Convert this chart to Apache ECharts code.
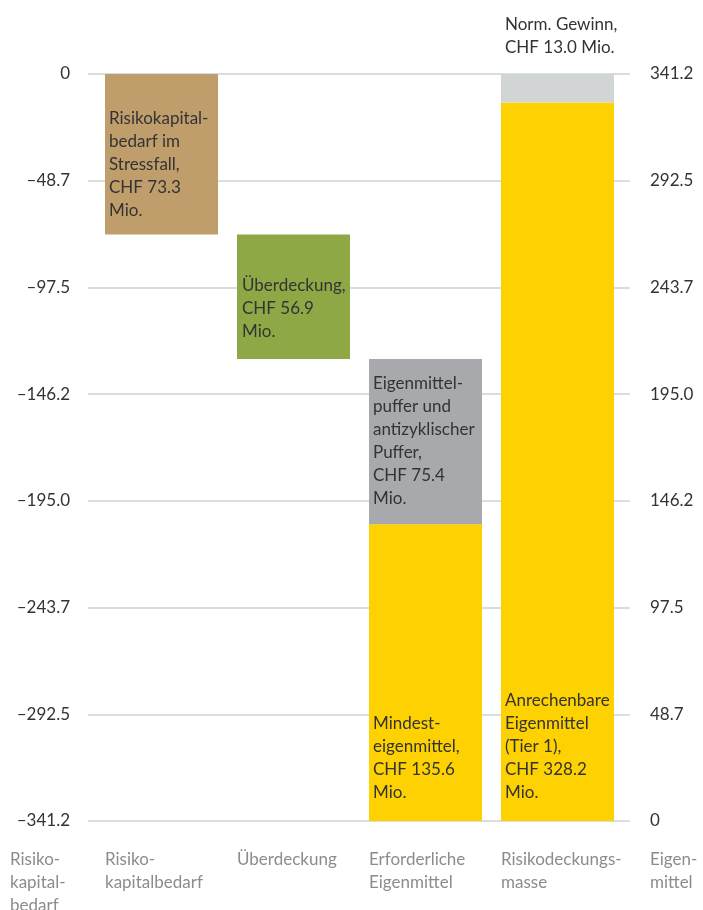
<!DOCTYPE html>
<html>
<head>
<meta charset="utf-8">
<script src="https://cdn.jsdelivr.net/npm/echarts@6/dist/echarts.min.js"></script>
<style>
  html, body { margin: 0; padding: 0; background: #fff; }
  #chart { width: 703px; height: 910px; }
</style>
</head>
<body>
<div id="chart"></div>
<script>
// Daten (CHF Mio.)
var axisMax = 341.2;
var categories = ['Risiko-\nkapitalbedarf', 'Überdeckung', 'Erforderliche\nEigenmittel', 'Risikodeckungs-\nmasse'];
var lowerValues = [73.3, 56.9, 135.6, 328.2];
var upperValues = ['-', '-', 75.4, 13.0];
var lowerColors = ['#bf9e6c', '#8fa846', '#fed100', '#fed100'];
var upperColors = ['#a8a9ac', '#d2d5d5'];
var lowerLabels = [
    'Risikokapital-\nbedarf im\nStressfall,\nCHF 73.3\nMio.',
    'Überdeckung,\nCHF 56.9\nMio.',
    'Mindest-\neigenmittel,\nCHF 135.6\nMio.',
    'Anrechenbare\nEigenmittel\n(Tier 1),\nCHF 328.2\nMio.'
];
var upperLabels = ['', '', 'Eigenmittel-\npuffer und\nantizyklischer\nPuffer,\nCHF 75.4\nMio.', 'Norm. Gewinn,\nCHF 13.0 Mio.'];

// Sockel für den Wasserfall: Balken 1 und 2 hängen von oben
var baseValues = [
    axisMax - lowerValues[0],
    axisMax - lowerValues[0] - lowerValues[1],
    0,
    0
];

var FONT = 'Lato, sans-serif';
var txt = '#333333';
var grau = '#8b8c8e';
var step = axisMax / 7;

var chart = echarts.init(document.getElementById('chart'), null, {renderer: 'canvas'});

function fmt(v) {
    if (Math.abs(v) < 1e-6) return '0';
    return (v < 0 ? '\u2013' : '') + Math.abs(v).toFixed(1);
}

var lowerData = lowerValues.map(function (v, i) {
    var lbl;
    if (i === 0) lbl = {position: [4, 33], verticalAlign: 'top'};
    else if (i === 1) lbl = {position: [5, 40], verticalAlign: 'top'};
    else lbl = {position: 'insideBottomLeft', distance: 4, offset: [0, -13], verticalAlign: 'bottom'};
    return {
        value: v,
        itemStyle: {color: lowerColors[i]},
        label: lbl
    };
});

var upperData = upperValues.map(function (v, i) {
    if (v === '-') return '-';
    var lbl = i === 2 ? {position: [4, 13], verticalAlign: 'top'} : {position: [4, -15], verticalAlign: 'bottom'};
    return {
        value: v,
        itemStyle: {color: upperColors[i - 2]},
        label: lbl
    };
});

var labelStyle = {
    show: true,
    color: txt,
    fontFamily: FONT,
    fontSize: 17,
    lineHeight: 23,
    align: 'left'
};

var option = {
    animation: false,
    backgroundColor: '#ffffff',
    textStyle: {fontFamily: FONT},
    grid: [
        {left: 95.5, width: 528, top: 74, bottom: 89, outerBoundsMode: 'none'},   // Balken
        {left: 88, right: 73, top: 74, bottom: 89, outerBoundsMode: 'none'},      // Gitter + Achsen
        {left: 39, width: 528, top: 74, bottom: 89, outerBoundsMode: 'none'}      // Kategorietexte
    ],
    xAxis: [
        {gridIndex: 0, type: 'category', data: categories, show: false},
        {gridIndex: 1, type: 'value', show: false},
        {
            gridIndex: 2, type: 'category', data: categories,
            axisLine: {show: false}, axisTick: {show: false},
            axisLabel: {
                interval: 0, hideOverlap: false,
                align: 'left', verticalAlign: 'top', margin: 27,
                color: grau, fontFamily: FONT, fontSize: 17, lineHeight: 23
            }
        }
    ],
    yAxis: [
        {gridIndex: 0, type: 'value', min: 0, max: axisMax, show: false},
        {
            gridIndex: 1, type: 'value', position: 'left',
            min: -axisMax, max: 0, interval: step,
            axisLine: {show: false}, axisTick: {show: false},
            axisLabel: {formatter: fmt, color: txt, fontFamily: FONT, fontSize: 17, margin: 18},
            splitLine: {show: true, lineStyle: {color: '#dadddd', width: 2}}
        },
        {
            gridIndex: 1, type: 'value', position: 'right',
            min: 0, max: axisMax, interval: step,
            axisLine: {show: false}, axisTick: {show: false},
            axisLabel: {formatter: fmt, color: txt, fontFamily: FONT, fontSize: 17, margin: 20},
            splitLine: {show: false}
        },
        {
            gridIndex: 2, type: 'value', position: 'left', offset: 29,
            axisLine: {show: false}, axisTick: {show: false}, axisLabel: {show: false},
            splitLine: {show: false},
            name: 'Risiko-\nkapital-\nbedarf', nameLocation: 'start', nameGap: 27,
            nameTextStyle: {
                color: grau, fontFamily: FONT, fontSize: 17, lineHeight: 23,
                align: 'left', verticalAlign: 'top'
            }
        },
        {
            gridIndex: 1, type: 'value', position: 'right', offset: 20,
            axisLine: {show: false}, axisTick: {show: false}, axisLabel: {show: false},
            splitLine: {show: false},
            name: 'Eigen-\nmittel', nameLocation: 'start', nameGap: 27,
            nameTextStyle: {
                color: grau, fontFamily: FONT, fontSize: 17, lineHeight: 23,
                align: 'left', verticalAlign: 'top'
            }
        }
    ],
    series: [
        {
            name: 'Sockel', type: 'bar', stack: 'w', xAxisIndex: 0, yAxisIndex: 0,
            barWidth: 113, data: baseValues,
            itemStyle: {color: 'rgba(0,0,0,0)'}, silent: true
        },
        {
            name: 'Unten', type: 'bar', stack: 'w', xAxisIndex: 0, yAxisIndex: 0,
            barWidth: 113, data: lowerData,
            label: Object.assign({}, labelStyle, {
                formatter: function (p) { return lowerLabels[p.dataIndex]; }
            })
        },
        {
            name: 'Oben', type: 'bar', stack: 'w', xAxisIndex: 0, yAxisIndex: 0,
            barWidth: 113, data: upperData,
            label: Object.assign({}, labelStyle, {
                formatter: function (p) { return upperLabels[p.dataIndex]; }
            })
        }
    ]
};

chart.setOption(option);
</script>
</body>
</html>
